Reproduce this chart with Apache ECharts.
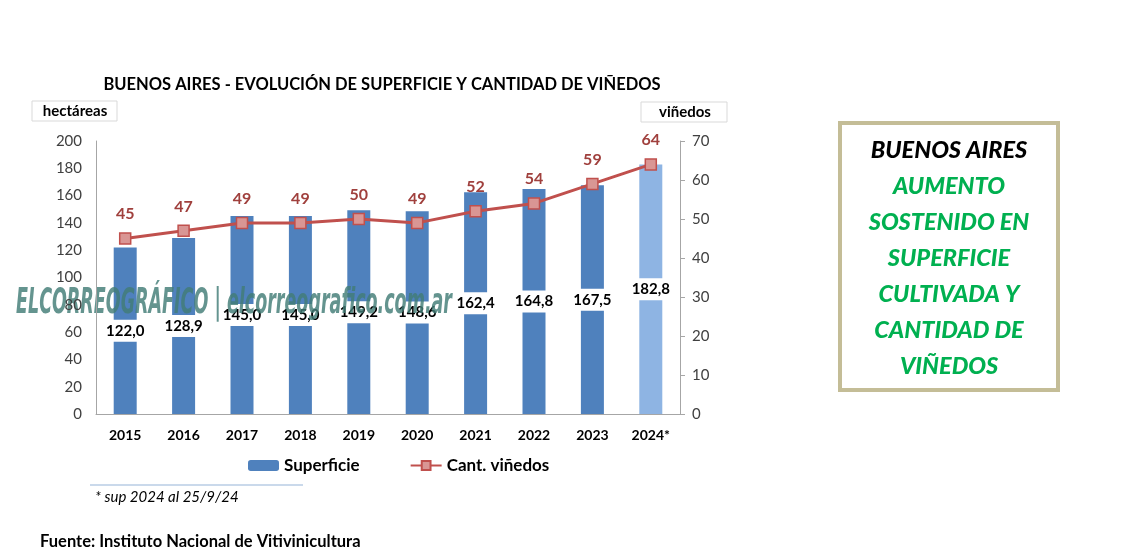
<!DOCTYPE html>
<html>
<head>
<meta charset="utf-8">
<script src="https://cdn.jsdelivr.net/npm/echarts@6/dist/echarts.min.js"></script>
<style>
  html, body { margin: 0; padding: 0; background: #fff; }
  #chart { width: 1142px; height: 560px; }
</style>
</head>
<body>
<div id="chart"></div>
<script>
// datos
const years = ["2015", "2016", "2017", "2018", "2019", "2020", "2021", "2022", "2023", "2024*"]
const superficie = [122.0, 128.9, 145.0, 145.0, 149.2, 148.6, 162.4, 164.8, 167.5, 182.8]
const vinedos = [45, 47, 49, 49, 50, 49, 52, 54, 59, 64]
const boxLines = ["AUMENTO", "SOSTENIDO EN", "SUPERFICIE", "CULTIVADA Y", "CANTIDAD DE", "VIÑEDOS"]

const FONT = "Lato, 'Open Sans', sans-serif"
const WM_TEXT = "ELCORREOGRÁFICO | elcorreografico.com.ar"
const WM_FONT = "italic bold 36px 'DejaVu Sans Condensed', 'DejaVu Sans', sans-serif"

// ancho de la marca de agua para ajustarla a su caja
const ctx = document.createElement("canvas").getContext("2d")
ctx.font = WM_FONT
const wmScale = 436 / ctx.measureText(WM_TEXT).width

const chart = echarts.init(document.getElementById("chart"))

const barData = superficie.map((v, i) => ({
  value: v,
  itemStyle: { color: i === superficie.length - 1 ? "#8EB4E3" : "#4F81BD" }
}))

const option = {
  backgroundColor: "#fff",
  animation: false,
  textStyle: { fontFamily: FONT },
  grid: { left: 96, right: 462, top: 141, bottom: 146 },
  legend: {
    left: 243, top: 452,
    itemWidth: 31, itemHeight: 11,
    itemGap: 50,
    textStyle: { fontSize: 17, fontWeight: "bold", color: "#000", fontFamily: FONT },
    data: ["Superficie", "Cant. viñedos"]
  },
  xAxis: {
    type: "category",
    data: years,
    axisLine: { show: true, lineStyle: { color: "#A6A6A6" } },
    axisTick: { show: false },
    axisLabel: { color: "#000", fontWeight: "bold", fontSize: 14, margin: 14 },
    splitLine: { show: false }
  },
  yAxis: [
    {
      type: "value", min: 0, max: 200, interval: 20,
      axisLine: { show: true, lineStyle: { color: "#A6A6A6" } },
      axisTick: { show: false },
      axisLabel: { color: "#404040", fontSize: 15, margin: 14 },
      splitLine: { show: false },
      z: 5
    },
    {
      type: "value", min: 0, max: 70, interval: 10,
      axisLine: { show: true, lineStyle: { color: "#A6A6A6" } },
      axisTick: { show: true, length: 5, lineStyle: { color: "#A6A6A6" } },
      axisLabel: { color: "#404040", fontSize: 15, margin: 12 },
      splitLine: { show: false }
    }
  ],
  series: [
    {
      name: "Superficie",
      type: "bar",
      yAxisIndex: 0,
      barWidth: 23,
      itemStyle: { color: "#4F81BD" },
      data: barData,
      label: {
        show: true,
        position: "inside",
        formatter: p => p.value.toFixed(1).replace(".", ","),
        color: "#000",
        fontWeight: "bold",
        fontSize: 15,
        backgroundColor: "#fff",
        padding: [4, 2, 3, 2]
      },
      z: 2
    },
    {
      name: "Cant. viñedos",
      type: "line",
      yAxisIndex: 1,
      data: vinedos,
      symbol: "rect",
      symbolSize: 11,
      lineStyle: { color: "#C0504D", width: 3 },
      itemStyle: { color: "#D99694", borderColor: "#C0504D", borderWidth: 1.5 },
      label: {
        show: true,
        position: "top",
        distance: 10,
        color: "#A0403D",
        fontWeight: "bold",
        fontSize: 16
      },
      z: 3
    }
  ],
  graphic: [
    {
      type: "text",
      style: {
        x: 382, y: 85,
        text: "BUENOS AIRES - EVOLUCIÓN DE SUPERFICIE Y CANTIDAD DE VIÑEDOS",
        fill: "#000", font: "bold 16.5px " + FONT,
        align: "center", verticalAlign: "middle"
      }
    },
    {
      type: "rect",
      shape: { x: 32, y: 101, width: 85, height: 20 },
      style: { fill: "#fff", stroke: "#D9D9D9", lineWidth: 1 }
    },
    {
      type: "text",
      style: {
        x: 75, y: 111, text: "hectáreas",
        fill: "#000", font: "bold 15px " + FONT,
        align: "center", verticalAlign: "middle"
      }
    },
    {
      type: "rect",
      shape: { x: 641, y: 102, width: 86, height: 20 },
      style: { fill: "#fff", stroke: "#D9D9D9", lineWidth: 1 }
    },
    {
      type: "text",
      style: {
        x: 685, y: 112, text: "viñedos",
        fill: "#000", font: "bold 15px " + FONT,
        align: "center", verticalAlign: "middle"
      }
    },
    {
      type: "line",
      shape: { x1: 90, y1: 485, x2: 303, y2: 485 },
      style: { stroke: "#95B3D7", lineWidth: 1 }
    },
    {
      type: "text",
      style: {
        x: 95, y: 497, text: "* sup 2024 al 25/9/24",
        fill: "#000", font: "italic 15px " + FONT,
        verticalAlign: "middle"
      }
    },
    {
      type: "text",
      style: {
        x: 40, y: 542, text: "Fuente: Instituto Nacional de Vitivinicultura",
        fill: "#000", font: "bold 16.5px " + FONT,
        verticalAlign: "middle"
      }
    },
    // recuadro derecho
    {
      type: "rect",
      shape: { x: 840, y: 123, width: 218, height: 267 },
      style: { fill: "#fff", stroke: "#C4BD97", lineWidth: 4 }
    },
    {
      type: "text",
      style: {
        x: 949, y: 150, text: "BUENOS AIRES",
        fill: "#000", font: "italic 900 23.5px " + FONT,
        align: "center", verticalAlign: "middle"
      }
    },
    ...boxLines.map((t, i) => ({
      type: "text",
      style: {
        x: 949, y: 186 + i * 36, text: t,
        fill: "#00B050", font: "italic 900 23.5px " + FONT,
        align: "center", verticalAlign: "middle"
      }
    })),
    // marca de agua
    {
      type: "text",
      x: 16, y: 304,
      scaleX: wmScale,
      z: 4,
      style: {
        x: 0, y: 0,
        text: WM_TEXT,
        fill: "rgba(66,124,118,0.82)",
        font: WM_FONT,
        verticalAlign: "middle"
      }
    }
  ]
}

chart.setOption(option)
</script>
</body>
</html>
